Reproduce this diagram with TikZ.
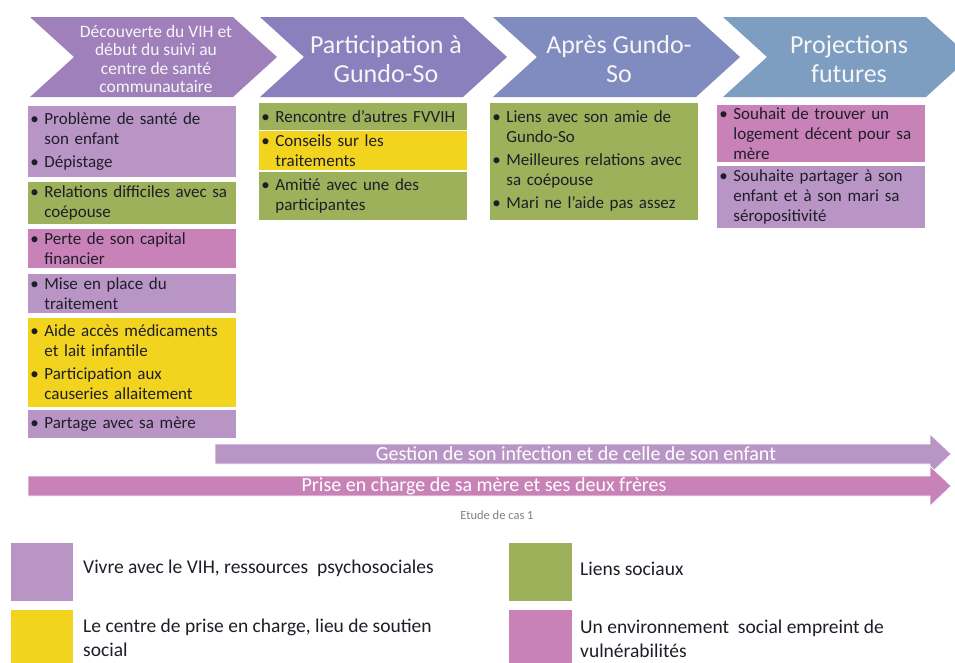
\documentclass[tikz,border=0pt]{standalone}
\usepackage{fontspec}
\setmainfont{Carlito}
\usetikzlibrary{positioning}

\definecolor{lila}{RGB}{185,149,198}
\definecolor{vert}{RGB}{157,176,90}
\definecolor{jaune}{RGB}{242,212,30}
\definecolor{rose}{RGB}{200,130,184}
\definecolor{chevA}{RGB}{160,128,187}
\definecolor{chevB}{RGB}{138,128,190}
\definecolor{chevC}{RGB}{128,139,192}
\definecolor{chevD}{RGB}{126,158,193}
\definecolor{encre}{RGB}{30,30,40}

\newcommand{\puce}[1]{\hangindent=14pt\hangafter=1\noindent\makebox[14pt][l]{\textbullet}#1\par}

\tikzset{
  boite/.style={draw=white, line width=0.8pt, anchor=north west, inner xsep=3pt, inner ysep=1pt,
    minimum width=209, text width=203, text=encre, align=left,
    font=\fontsize{17}{20}\selectfont\setlength{\parskip}{3pt}},
  entete/.style={text=white!93!gray, align=center},
  bande/.style={draw=white, line width=0.6pt},
  bandetxt/.style={text=white, font=\fontsize{20}{22}\selectfont},
  carre/.style={anchor=north west, inner sep=0pt, draw=white, minimum width=63, minimum height=59},
  legtxt/.style={anchor=base west, inner sep=0pt, text=encre, align=left,
    font=\fontsize{19.5}{24}\selectfont},
}

\begin{document}
\begin{tikzpicture}[x=1pt,y=-1pt]
  \useasboundingbox (0,0) rectangle (955,662);
  \clip (0,0) rectangle (955,662);
  \fill[white] (0,0) rectangle (955,662);

  % les etapes
  \foreach \i/\x/\col/\fs/\bs/\txt in {
      1/30/chevA/17.5/18.5/{Découverte du VIH et\\début du suivi au\\centre de santé\\communautaire},
      2/260/chevB/26/29/{Participation à\\Gundo-So},
      3/493/chevC/26/29/{Après Gundo-\\So},
      4/723/chevD/26/29/{Projections\\futures}}
  {
    \fill[\col] (\x,17) -- ++(203,0) -- ++(44,40) -- ++(-44,40) -- ++(-203,0) -- ++(44,-40) -- cycle;
    \node[entete, font=\fontsize{\fs}{\bs}\selectfont] (h\i) at ({\x+126},59) {\txt};
  }

  % colonne 1
  \node[boite, fill=lila, minimum height=72] (b1) at (27,105)
    {\puce{Problème de santé de\newline son enfant}\puce{Dépistage}};
  \node[boite, fill=vert, minimum height=43] (b2) at (27,181)
    {\puce{Relations difficiles avec sa\newline coépouse}};
  \node[boite, fill=rose, minimum height=40] (b3) at (27,228)
    {\puce{Perte de son capital\newline financier}};
  \node[boite, fill=lila, minimum height=40] (b4) at (27,273)
    {\puce{Mise en place du\newline traitement}};
  \node[boite, fill=jaune, minimum height=90] (b5) at (27,317)
    {\puce{Aide accès médicaments\newline et lait infantile}\puce{Participation aux\newline causeries allaitement}};
  \node[boite, fill=lila, minimum height=29] (b6) at (27,409)
    {\puce{Partage avec sa mère}};

  % colonne 2
  \node[boite, fill=vert, minimum height=28] (c1) at (258,102)
    {\puce{Rencontre d’autres FVVIH}};
  \node[boite, fill=jaune, minimum height=40] (c2) at (258,130)
    {\puce{Conseils sur les\newline traitements}};
  \node[boite, fill=vert, minimum height=49] (c3) at (258,171)
    {\puce{Amitié avec une des\newline participantes}};

  % colonne 3
  \node[boite, fill=vert, minimum height=118, minimum width=208] (d1) at (489,102)
    {\puce{Liens avec son amie de\newline Gundo-So}\puce{Meilleures relations avec\newline sa coépouse}\puce{Mari ne l’aide pas assez}};

  % colonne 4
  \node[boite, fill=rose, minimum height=58] (e1) at (716,104)
    {\puce{Souhait de trouver un\newline logement décent pour sa\newline mère}};
  \node[boite, fill=lila, minimum height=63] (e2) at (716,165)
    {\puce{Souhaite partager à son\newline enfant et à son mari sa\newline séropositivité}};

  % les deux fleches
  \fill[lila, bande] (215,444) -- (930,444) -- (930,434) -- (951,454) -- (930,474) -- (930,464) -- (215,464) -- cycle;
  \node[bandetxt] (g1) at (576,454) {Gestion de son infection et de celle de son enfant};
  \fill[rose, bande] (28,476) -- (930,476) -- (930,466) -- (951,486) -- (930,506) -- (930,496) -- (28,496) -- cycle;
  \node[bandetxt] (g2) at (484,486) {Prise en charge de sa mère et ses deux frères};
  \node[text=gray, font=\fontsize{12.5}{14}\selectfont] (cas) at (497,515) {Etude de cas 1};

  % legende
  \node[carre, fill=lila] (lA) at (10,542) {};
  \node[legtxt] (tA) at (83,573) {Vivre avec le VIH, ressources\ \ psychosociales};
  \node[carre, fill=jaune, minimum height=70] (lB) at (10,609) {};
  \node[legtxt] (tB) at (83,656) {Le centre de prise en charge, lieu de soutien\\social};
  \node[carre, fill=vert, minimum width=64] (lC) at (508,542) {};
  \node[legtxt] (tC) at (580,575) {Liens sociaux};
  \node[carre, fill=rose, minimum width=64, minimum height=70] (lD) at (508,609) {};
  \node[legtxt] (tD) at (580,657) {Un environnement\ \ social empreint de\\vulnérabilités};
\end{tikzpicture}
\end{document}
